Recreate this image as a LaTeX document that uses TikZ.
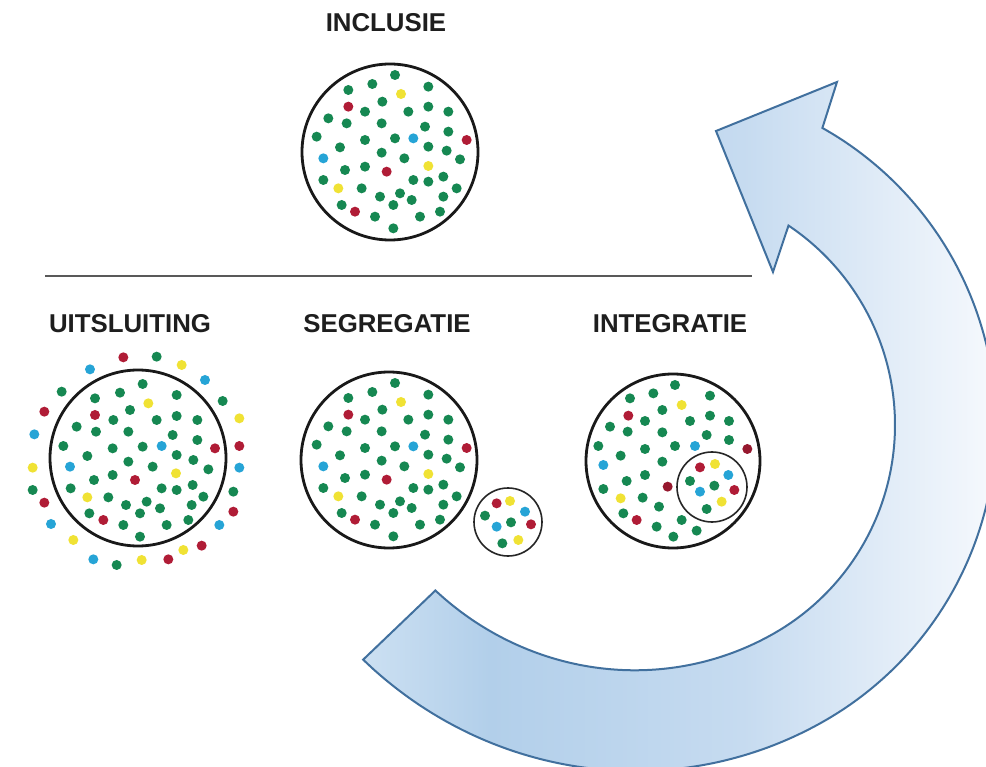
\documentclass[tikz,border=0pt]{standalone}
\usepackage{fontspec}
\setmainfont{Liberation Sans}
\definecolor{cG}{RGB}{22,136,82}
\definecolor{cR}{RGB}{176,28,54}
\definecolor{cY}{RGB}{240,226,52}
\definecolor{cB}{RGB}{38,164,214}
\definecolor{titlecol}{RGB}{30,30,30}
\definecolor{arrowline}{RGB}{65,112,158}
\definecolor{aL}{RGB}{204,224,242}
\definecolor{aD}{RGB}{178,207,234}
\definecolor{aM}{RGB}{198,219,240}
\definecolor{aR}{RGB}{246,249,253}
\pgfdeclarehorizontalshading{arrowshade}{100bp}{color(0bp)=(aL); color(25bp)=(aL); color(35bp)=(aD); color(55bp)=(aM); color(75bp)=(aR); color(100bp)=(aR)}
\newcommand\inclusiepattern{%
  \foreach \x/\y in {300/45,160/90,232/72,400/80,262/125,210/155,340/155,400/140,460/155,100/175,155/190,260/190,390/200,460/215,65/230,210/240,300/235,135/262,400/260,455/272,260/278,328/295,495/298,210/320,150/330,85/360,355/360,400/365,445/350,200/385,485/385,315/400,255/410,350/420,445/410,140/435,295/435,240/470,375/470,435/455,295/505}
    \fill[cG] (\x,\y) circle[radius=15];
  \foreach \x/\y in {318/102,400/318,130/385}
    \fill[cY] (\x,\y) circle[radius=15];
  \foreach \x/\y in {160/140,515/240,275/335,180/455}
    \fill[cR] (\x,\y) circle[radius=15];
  \foreach \x/\y in {355/235,85/295}
    \fill[cB] (\x,\y) circle[radius=15];
}
\begin{document}
\begin{tikzpicture}[x=1pt,y=-1pt,
  declare function={rin(\a)=240+35*(max(0,\a-60)/83)^2; rout(\a)=341+35*(max(0,\a-60)/83)^2;},
  title/.style={font=\fontsize{25.8}{30}\selectfont\bfseries, text=titlecol, inner sep=0pt},
  ring/.style={draw=black!90, line width=2.8pt},
  smallring/.style={draw=black!85, line width=1.6pt},
  divider/.style={draw=black!65, line width=1.4pt},
  arrowshape/.style={draw=arrowline, line width=2pt, line join=miter, shading=arrowshade}]
\useasboundingbox (0,0) rectangle (986,767);
\fill[white] (0,0) rectangle (986,767);

% big curved arrow
\draw[arrowshape]
  plot[variable=\t, domain=0:201.8, samples=90, smooth]
    ({655+rout(141.2-\t)*cos(141.2-\t)}, {425+rout(141.2-\t)*sin(141.2-\t)})
  -- (837,82) -- (716,131) -- (773,272)
  -- plot[variable=\t, domain=-56.2:143, samples=90, smooth]
    ({655+rin(\t)*cos(\t)}, {425+rin(\t)*sin(\t)})
  -- cycle;

% titles
\node[title] (inclusie) at (386,23) {INCLUSIE};
\node[title] (uitsluiting) at (130,324) {UITSLUITING};
\node[title] (segregatie) at (387,324) {SEGREGATIE};
\node[title] (integratie) at (670,324) {INTEGRATIE};

% divider
\coordinate (dl) at (45,276);
\coordinate (dr) at (752,276);
\draw[divider] (dl) -- (dr);

% INCLUSIE
\begin{scope}[shift={(295,60)}, scale=1/3]
  \inclusiepattern
\end{scope}
\draw[ring] (390,152) circle[radius=88];

% SEGREGATIE
\begin{scope}[shift={(295,368)}, scale=1/3]
  \inclusiepattern
\end{scope}
\draw[ring] (389,460) circle[radius=88];
\begin{scope}[shift={(295,370)}, scale=1/3]
  \fill[cR] (605,400) circle[radius=15];
  \fill[cY] (645,393) circle[radius=15];
  \fill[cB] (690,425) circle[radius=15];
  \fill[cG] (570,437) circle[radius=15];
  \fill[cG] (648,457) circle[radius=15];
  \fill[cR] (708,463) circle[radius=15];
  \fill[cB] (605,470) circle[radius=15];
  \fill[cY] (670,510) circle[radius=15];
  \fill[cG] (622,520) circle[radius=15];
\end{scope}
\draw[smallring] (508,522) circle[radius=34];

% INTEGRATIE
\begin{scope}[shift={(575,365)}, scale=1/3]
  \foreach \x/\y in {300/60,165/100,235/85,405/92,262/135,210/168,345/168,405/152,462/168,105/185,158/200,262/202,395/210,462/225,70/243,210/252,300/243,137/272,262/290,210/330,155/348,85/372,203/398,252/425,145/445,245/485,320/465,365/497,295/515,345/348,418/362,395/432}
    \fill[cG] (\x,\y) circle[radius=15];
  \foreach \x/\y in {320/120,137/400,420/297,440/410}
    \fill[cY] (\x,\y) circle[radius=15];
  \foreach \x/\y in {160/152,185/465,375/307,478/375}
    \fill[cR] (\x,\y) circle[radius=15];
  \foreach \x/\y in {517/252,278/365}
    \fill[cR!85!black] (\x,\y) circle[radius=15];
  \foreach \x/\y in {360/243,85/300,460/330,375/380}
    \fill[cB] (\x,\y) circle[radius=15];
\end{scope}
\draw[ring] (673,461) circle[radius=87];
\draw[smallring] (712,487) circle[radius=35];

% UITSLUITING
\begin{scope}[shift={(0,340)}, scale=1/3]
  \foreach \x/\y in {470/50,185/155,668/183,98/450,700/455,350/675,428/132,285/175,360/158,530/165,390/210,340/240,470/240,530/228,592/240,230/260,288/275,385/275,518/285,592/300,190/318,338/325,428/320,262/348,530/345,385/365,580/360,458/380,625/388,338/405,282/420,212/445,485/445,530/450,578/435,610/470,325/472,440/485,378/495,480/505,575/495,268/520,420/520,370/555,500/555,565/540,420/590}
    \fill[cG] (\x,\y) circle[radius=15];
  \foreach \x/\y in {545/75,718/235,98/383,220/600,550/630,425/660,445/190,528/400,262/472}
    \fill[cY] (\x,\y) circle[radius=15];
  \foreach \x/\y in {370/52,133/215,718/318,133/488,700/515,605/617,505/658,285/225,645/325,405/420,310/540}
    \fill[cR] (\x,\y) circle[radius=15];
  \foreach \x/\y in {270/88,615/120,103/283,718/383,153/552,658/555,280/658,485/318,210/380}
    \fill[cB] (\x,\y) circle[radius=15];
\end{scope}
\draw[ring] (138,458) circle[radius=88];
\end{tikzpicture}
\end{document}
